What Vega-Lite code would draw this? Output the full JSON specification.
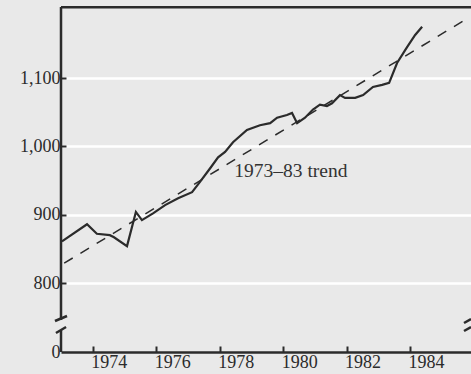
{
  "$schema": "https://vega.github.io/schema/vega-lite/v6.json",
  "width": 410,
  "height": 345,
  "autosize": {"type": "none"},
  "padding": {"left": 61, "top": 7, "right": 0, "bottom": 22},
  "background": "#e9e9e9",
  "config": {"view": {"stroke": null}, "font": "Liberation Serif"},
  "datasets": {
    "series": [
      {"year": 1973.03, "value": 861}, {"year": 1973.82, "value": 886},
      {"year": 1974.13, "value": 872}, {"year": 1974.54, "value": 870},
      {"year": 1974.67, "value": 867}, {"year": 1975.08, "value": 854},
      {"year": 1975.36, "value": 904}, {"year": 1975.55, "value": 892},
      {"year": 1975.90, "value": 902}, {"year": 1976.28, "value": 914},
      {"year": 1976.69, "value": 924}, {"year": 1977.13, "value": 933},
      {"year": 1977.38, "value": 948}, {"year": 1977.70, "value": 968},
      {"year": 1977.95, "value": 984}, {"year": 1978.17, "value": 992},
      {"year": 1978.42, "value": 1006}, {"year": 1978.86, "value": 1024},
      {"year": 1979.27, "value": 1031}, {"year": 1979.59, "value": 1034},
      {"year": 1979.81, "value": 1042}, {"year": 1980.12, "value": 1046},
      {"year": 1980.28, "value": 1049}, {"year": 1980.44, "value": 1034},
      {"year": 1980.69, "value": 1042}, {"year": 1980.94, "value": 1054},
      {"year": 1981.16, "value": 1061}, {"year": 1981.38, "value": 1059},
      {"year": 1981.54, "value": 1063}, {"year": 1981.79, "value": 1075},
      {"year": 1981.95, "value": 1071}, {"year": 1982.27, "value": 1071},
      {"year": 1982.52, "value": 1075}, {"year": 1982.83, "value": 1087},
      {"year": 1983.12, "value": 1090}, {"year": 1983.34, "value": 1093},
      {"year": 1983.59, "value": 1122}, {"year": 1983.90, "value": 1145},
      {"year": 1984.16, "value": 1163}, {"year": 1984.38, "value": 1175}
    ],
    "trend": [
      {"year": 1973.1, "value": 829},
      {"year": 1985.83, "value": 1188}
    ],
    "label": [
      {"year": 1978.46, "value": 955, "text": "1973–83 trend"}
    ],
    "segs": [
      {"x": 1973, "x2": 1973, "y": 699, "y2": 731},
      {"x": 1973, "x2": 1973, "y": 746, "y2": 1204},
      {"x": 1973, "x2": 1985.92, "y": 1203.5, "y2": 1203.5},
      {"x": 1972.81, "x2": 1973.19, "y": 744.4, "y2": 751.7},
      {"x": 1972.84, "x2": 1973.16, "y": 726.8, "y2": 735.6},
      {"x": 1985.70, "x2": 1985.92, "y": 741.4, "y2": 747.2},
      {"x": 1985.70, "x2": 1985.92, "y": 729.7, "y2": 735.5}
    ]
  },
  "layer": [
    {
      "data": {"name": "series"},
      "mark": {"type": "line", "color": "#2b2b2b", "strokeWidth": 2.2},
      "encoding": {
        "x": {
          "field": "year", "type": "quantitative",
          "scale": {"domain": [1973, 1985.92], "nice": false, "zero": false},
          "axis": {
            "title": null,
            "values": [1974, 1975, 1976, 1977, 1978, 1979, 1980, 1981, 1982, 1983, 1984, 1985],
            "labelExpr": "(datum.value % 2 == 0 && datum.value <= 1984) ? datum.value + '' : ''",
            "labelOffset": 16,
            "labelOverlap": false,
            "labelBound": false,
            "labelFlush": false,
            "labelFont": "Liberation Serif",
            "labelFontSize": 18,
            "labelColor": "#2b2b2b",
            "labelPadding": 7,
            "tickSize": -6,
            "tickWidth": 2,
            "tickColor": "#2b2b2b",
            "domainColor": "#2b2b2b",
            "domainWidth": 2.5,
            "grid": false
          }
        },
        "y": {
          "field": "value", "type": "quantitative",
          "scale": {"domain": [699, 1204], "nice": false, "zero": false},
          "axis": {
            "title": null,
            "values": [699, 800, 900, 1000, 1100],
            "labelExpr": "datum.value < 750 ? '0' : format(datum.value, ',')",
            "labelFont": "Liberation Serif",
            "labelFontSize": 18,
            "labelColor": "#2b2b2b",
            "labelPadding": 6,
            "labelOverlap": false,
            "labelBound": false,
            "labelFlush": false,
            "domain": false,
            "tickSize": -5,
            "tickWidth": 2,
            "tickColor": "#2b2b2b",
            "tickOpacity": {"condition": {"test": "datum.value < 750", "value": 0}, "value": 1},
            "grid": true,
            "gridColor": "#ffffff",
            "gridWidth": 2.5,
            "gridOpacity": {"condition": {"test": "datum.value < 750", "value": 0}, "value": 1}
          }
        }
      }
    },
    {
      "data": {"name": "trend"},
      "mark": {"type": "line", "color": "#2b2b2b", "strokeWidth": 1.5, "strokeDash": [10, 9]},
      "encoding": {
        "x": {"field": "year", "type": "quantitative"},
        "y": {"field": "value", "type": "quantitative"}
      }
    },
    {
      "data": {"name": "label"},
      "mark": {"type": "text", "align": "left", "baseline": "alphabetic", "font": "Liberation Serif", "fontSize": 19.5, "color": "#333333"},
      "encoding": {
        "x": {"field": "year", "type": "quantitative"},
        "y": {"field": "value", "type": "quantitative"},
        "text": {"field": "text"}
      }
    },
    {
      "data": {"name": "segs"},
      "mark": {"type": "rule", "color": "#2b2b2b", "strokeWidth": 2.5},
      "encoding": {
        "x": {"field": "x", "type": "quantitative"},
        "x2": {"field": "x2"},
        "y": {"field": "y", "type": "quantitative"},
        "y2": {"field": "y2"}
      }
    }
  ]
}
